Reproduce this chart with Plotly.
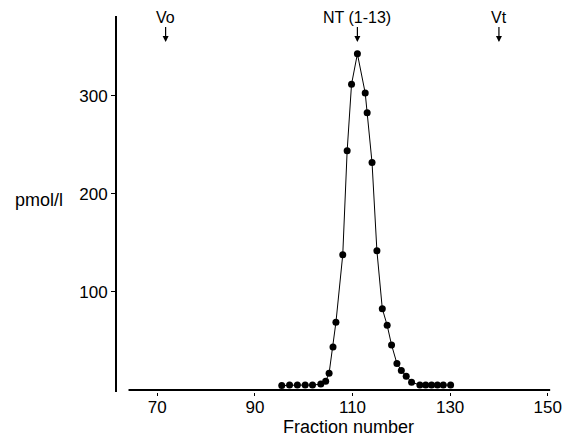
import plotly.graph_objects as go

fraction = [95.5, 97.1, 98.7, 100.3, 101.8, 103.5, 104.5, 105.2, 106.0, 106.6,
            108.0, 108.9, 109.8, 111.0, 112.6, 113.0, 114.0, 115.0, 116.1, 117.1,
            118.0, 119.1, 120.0, 121.0, 122.1, 123.8, 125.0, 126.2, 127.4, 128.6, 130.1]
pmol = [4.5, 5, 5, 5, 5, 6, 9, 17, 44, 69,
        138, 244, 312, 343, 303, 283, 232, 142, 83, 66,
        46, 27, 20, 14, 8, 5, 5, 5, 5, 5, 5]

x_ticks = [70, 90, 110, 130, 150]
y_ticks = [100, 200, 300]

markers_pos = [71.7, 111.0, 140.0]
markers_txt = ["Vo", "NT (1-13)", "Vt"]

FONT = "Liberation Sans"

fig = go.Figure()
fig.add_trace(go.Scatter(
    x=fraction, y=pmol, mode="lines+markers",
    line=dict(color="black", width=1),
    marker=dict(color="black", size=7),
    showlegend=False, cliponaxis=False,
))

# x-axis baseline
fig.add_shape(type="line", xref="x", yref="y", x0=64.1, x1=150.5, y0=0, y1=0,
              line=dict(color="black", width=2))

for xp, t in zip(markers_pos, markers_txt):
    fig.add_annotation(x=xp, y=355, xref="x", yref="y", text=t, showarrow=True,
                       ax=0, ay=-25, arrowhead=2, arrowsize=1, arrowwidth=1.2,
                       arrowcolor="black", standoff=0,
                       font=dict(family=FONT, size=16, color="black"))

fig.add_annotation(x=109.1, y=-0.062, xref="x", yref="paper", text="Fraction number",
                   showarrow=False, yanchor="top",
                   font=dict(family=FONT, size=18, color="black"))
fig.add_annotation(x=-0.236, y=194, xref="paper", yref="y", text="pmol/l",
                   showarrow=False, xanchor="left",
                   font=dict(family=FONT, size=18, color="black"))

fig.update_layout(
    width=566, height=428,
    margin=dict(l=109, r=17, t=8, b=44),
    paper_bgcolor="white", plot_bgcolor="white",
    font=dict(family=FONT, size=16, color="black"),
    xaxis=dict(range=[61.74, 151.9], tickvals=x_ticks, ticks="outside", ticklen=3,
               tickwidth=1, tickcolor="black", showline=False, showgrid=False,
               zeroline=False, tickfont=dict(size=17), ticklabelstandoff=-3),
    yaxis=dict(range=[-2.04, 381.6], tickvals=y_ticks, ticks="outside", ticklen=4,
               tickwidth=1, tickcolor="black", showline=True, linewidth=2,
               linecolor="black", showgrid=False, zeroline=False,
               tickfont=dict(size=17)),
)

fig.write_html("out.html")
